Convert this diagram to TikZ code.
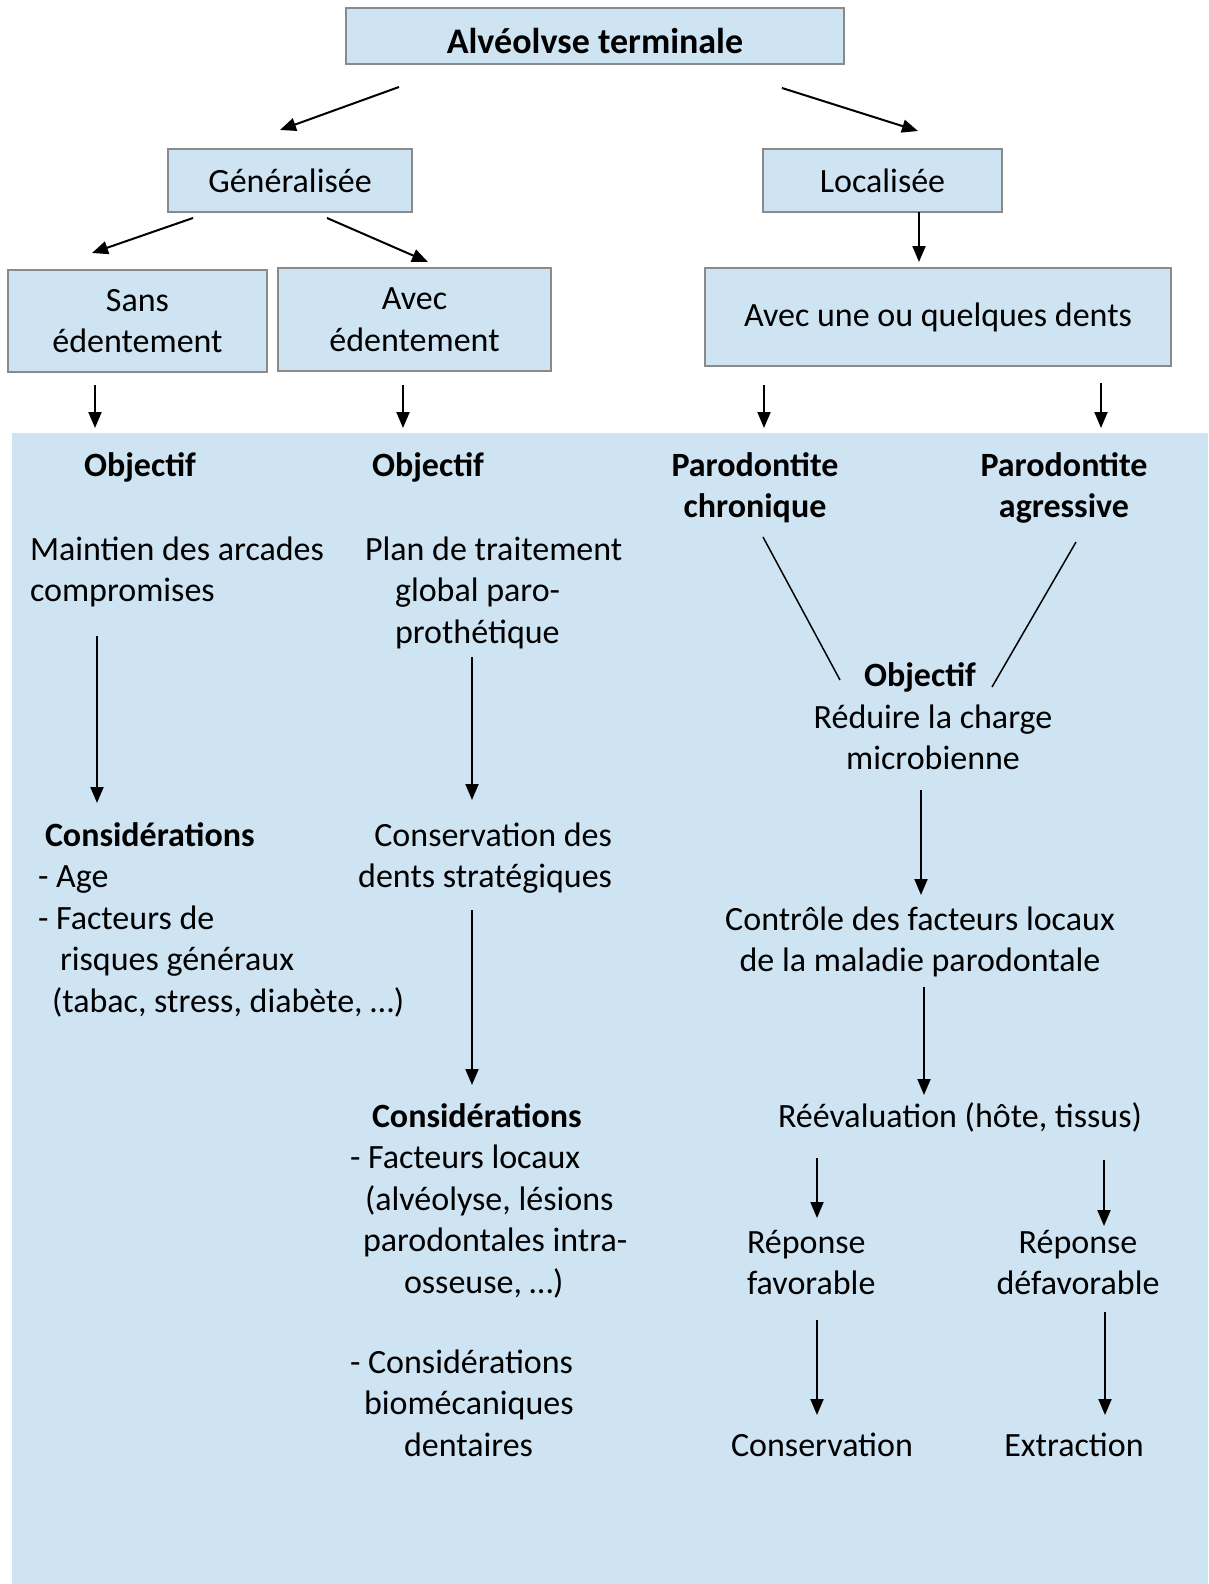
\documentclass[tikz,border=0pt]{standalone}
\usepackage{fontspec}
\setmainfont{Carlito}
\usepackage{tikz}
\usetikzlibrary{positioning}
\usetikzlibrary{arrows.meta}
\pgfdeclarelayer{nodelayer}
\pgfdeclarelayer{edgelayer}
\pgfsetlayers{nodelayer,edgelayer,main}
\definecolor{bleuclair}{RGB}{207,228,242}
\definecolor{bordgris}{RGB}{138,138,138}
\newcommand{\corps}{\fontsize{34}{41.5}\selectfont}

\begin{document}
\begin{tikzpicture}[x=1pt, y=-1pt,
    boite/.style={draw=bordgris, line width=2.5pt, fill=bleuclair, inner sep=0pt, outer sep=0pt, align=center, font=\corps},
    txt/.style={inner sep=0pt, outer sep=0pt, font=\corps},
    gras/.style={txt, font=\corps\bfseries},
    fleche/.style={line width=2pt, -{Triangle[length=16pt,width=13pt]}},
    trait/.style={line width=1.5pt}]
  \useasboundingbox (0,0) rectangle (1208,1584);
  \begin{pgfonlayer}{nodelayer}
    \fill [bleuclair] (12,433) rectangle (1208,1584);
    % boxes
    \node [boite, minimum width=498, minimum height=56, font=\fontsize{36}{44}\selectfont\bfseries] (titre) at (595,36) {\raisebox{-5pt}[\height][\depth]{Alvéolvse terminale}};
    \node [boite, minimum width=244, minimum height=63] (gen) at (290,180.5) {Généralisée};
    \node [boite, minimum width=239, minimum height=63] (loc) at (882.5,180.5) {Localisée};
    \node [boite, minimum width=259, minimum height=102] (sans) at (137.5,321) {Sans\\édentement};
    \node [boite, minimum width=273, minimum height=103] (avec) at (414.5,319.5) {Avec\\édentement};
    \node [boite, minimum width=466, minimum height=98] (dents) at (938,317) {Avec une ou quelques dents};
    % left columns
    \node [gras, anchor=north] (obj1) at (140,447) {\strut Objectif};
    \node [gras, anchor=north] (obj2) at (428,447) {\strut Objectif};
    \node [txt, anchor=north west, align=left] (maint) at (30,531) {\strut Maintien des arcades\\compromises};
    \node [txt, anchor=north west, align=left] (plan) at (365,531) {\strut Plan de traitement\\\hspace*{30pt}global paro-\\\hspace*{30pt}prothétique};
    \node [txt, anchor=north west, align=left] (cons1) at (38,817) {\strut\hspace*{7pt}\textbf{Considérations}\\- Age\\- Facteurs de\\\hspace*{22pt}risques généraux\\\hspace*{14pt}(tabac, stress, diabète, …)};
    \node [txt, anchor=north east, align=right] (strat) at (612,817) {\strut Conservation des\\dents stratégiques};
    \node [txt, anchor=north west, align=left] (cons2) at (350,1098) {\strut\hspace*{22pt}\textbf{Considérations}\\- Facteurs locaux\\\hspace*{15pt}(alvéolyse, lésions\\\hspace*{13pt}parodontales intra-\\\hspace*{54pt}osseuse, …)};
    \node [txt, anchor=north west, align=left] (cons3) at (350,1344) {\strut - Considérations\\\hspace*{14pt}biomécaniques\\\hspace*{54pt}dentaires};
    % right columns
    \node [gras, anchor=north, align=center] (chron) at (755,447) {\strut Parodontite\\chronique};
    \node [gras, anchor=north, align=center] (agr) at (1064,447) {\strut Parodontite\\agressive};
    \node [gras, anchor=north] (obj3) at (920,657) {\strut Objectif};
    \node [txt, anchor=north, align=center] (reduire) at (933,699) {\strut Réduire la charge\\microbienne};
    \node [txt, anchor=north, align=center] (controle) at (920,901) {\strut Contrôle des facteurs locaux\\de la maladie parodontale};
    \node [txt, anchor=north] (reeval) at (960,1098) {\strut Réévaluation (hôte, tissus)};
    \node [txt, anchor=north west, align=left] (fav) at (747,1224) {\strut Réponse\\favorable};
    \node [txt, anchor=north, align=center] (defav) at (1078,1224) {\strut Réponse\\défavorable};
    \node [txt, anchor=north] (conserv) at (822,1427) {\strut Conservation};
    \node [txt, anchor=north] (extr) at (1074,1427) {\strut Extraction};
  \end{pgfonlayer}
  \begin{pgfonlayer}{edgelayer}
    \draw [fleche] ([shift={(-196,23)}]titre.south) -- ++(-119,43);
    \draw [fleche] ([shift={(187,24)}]titre.south) -- ++(136,43);
    \draw [fleche] ([shift={(-97,6)}]gen.south) -- ++(-101,35);
    \draw [fleche] ([shift={(37,6)}]gen.south) -- ++(101,44);
    \draw [fleche] ([xshift=36.5pt]loc.south) -- ++(0,50);
    \draw [fleche] ([shift={(-42.5,13)}]sans.south) -- ++(0,43);
    \draw [fleche] ([shift={(-11.5,14)}]avec.south) -- ++(0,43);
    \draw [fleche] ([shift={(-174,19)}]dents.south) -- ++(0,43);
    \draw [fleche] ([shift={(163,17)}]dents.south) -- ++(0,45);
    \draw [fleche] ([shift={(67,105)}]maint.north west) -- ++(0,167);
    \draw [fleche] ([shift={(107,126)}]plan.north west) -- ++(0,143);
    \draw [fleche] ([shift={(-140,93)}]strat.north east) -- ++(0,175);
    \draw [trait] ([shift={(8,90)}]chron.north) -- ([shift={(-80,23)}]obj3.north);
    \draw [trait] ([shift={(12,95)}]agr.north) -- ([shift={(72,30)}]obj3.north);
    \draw [fleche] ([shift={(-12,91)}]reduire.north) -- ++(0,105);
    \draw [fleche] ([shift={(4,86)}]controle.north) -- ++(0,108);
    \draw [fleche] ([shift={(-143,60)}]reeval.north) -- ++(0,60);
    \draw [fleche] ([shift={(144,62)}]reeval.north) -- ++(0,66);
    \draw [fleche] ([shift={(70,96)}]fav.north west) -- ++(0,95);
    \draw [fleche] ([shift={(27,88)}]defav.north) -- ++(0,103);
  \end{pgfonlayer}
\end{tikzpicture}
\end{document}
